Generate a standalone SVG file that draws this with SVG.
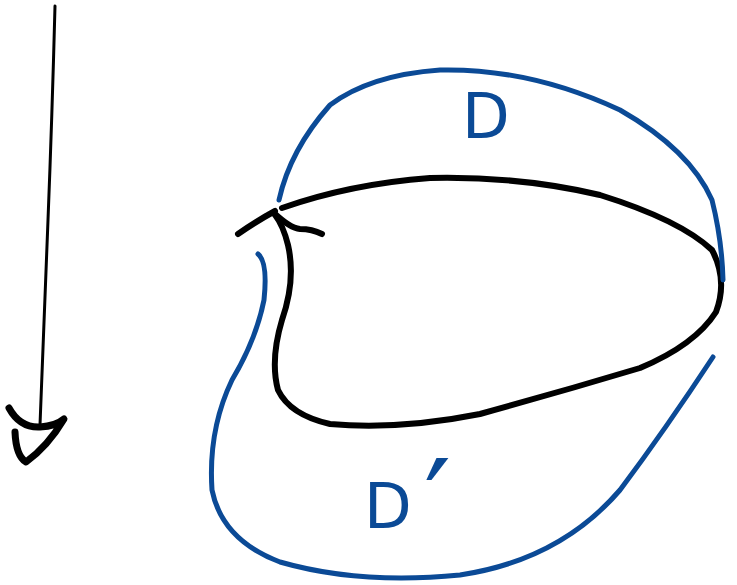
<svg xmlns="http://www.w3.org/2000/svg" width="737" height="585" viewBox="0 0 737 585">
<style>
.blk{fill:none;stroke:#000;stroke-linecap:round;stroke-linejoin:round}
.blu{fill:none;stroke:#0b4a96;stroke-width:5;stroke-linecap:round;stroke-linejoin:round}
.lbl{font-family:"DejaVu Sans",sans-serif;fill:#0b4a96;font-size:62px}
</style>
<rect width="737" height="585" fill="#fff"/>
<g id="connectors">
<path class="blk" stroke-width="3" d="M55 6 Q52 120 48 220 Q44 330 40 425"/>
<path class="blk" stroke-width="7" d="M9 408 Q20 428 40 427 Q56 426 64 419 Q48 446 26 462 Q16 456 15 432"/>
</g>
<g id="loop">
<path class="blk" stroke-width="6" d="M238 234 Q255 222 275 211"/>
<path class="blk" stroke-width="6" d="M274 213 Q290 228 300 229 Q312 229 322 234"/>
<path class="blk" stroke-width="6" d="M282 208 Q350 184 430 178 Q520 176 600 195 Q680 220 712 250 Q728 280 716 312 Q695 345 640 368 Q560 392 480 414 Q400 430 330 424 Q290 415 278 390 Q270 360 282 320 Q296 280 288 245 Q283 225 275 215"/>
</g>
<g id="D">
<path class="blu" d="M279 200 Q290 150 330 105 Q370 75 440 70 Q530 68 620 110 Q690 150 712 200 Q722 240 723 280"/>
<text class="lbl" x="462" y="138">D</text>
</g>
<g id="Dprime">
<path class="blu" d="M258 254 Q268 262 264 300 Q256 340 232 380 Q208 430 212 490 Q222 540 280 562 Q360 585 460 575 Q560 560 620 490 Q665 430 713 357"/>
<text class="lbl" x="364" y="528">D</text>
<text class="lbl" x="424" y="545" style="font-size:120px">′</text>
</g>
</svg>
